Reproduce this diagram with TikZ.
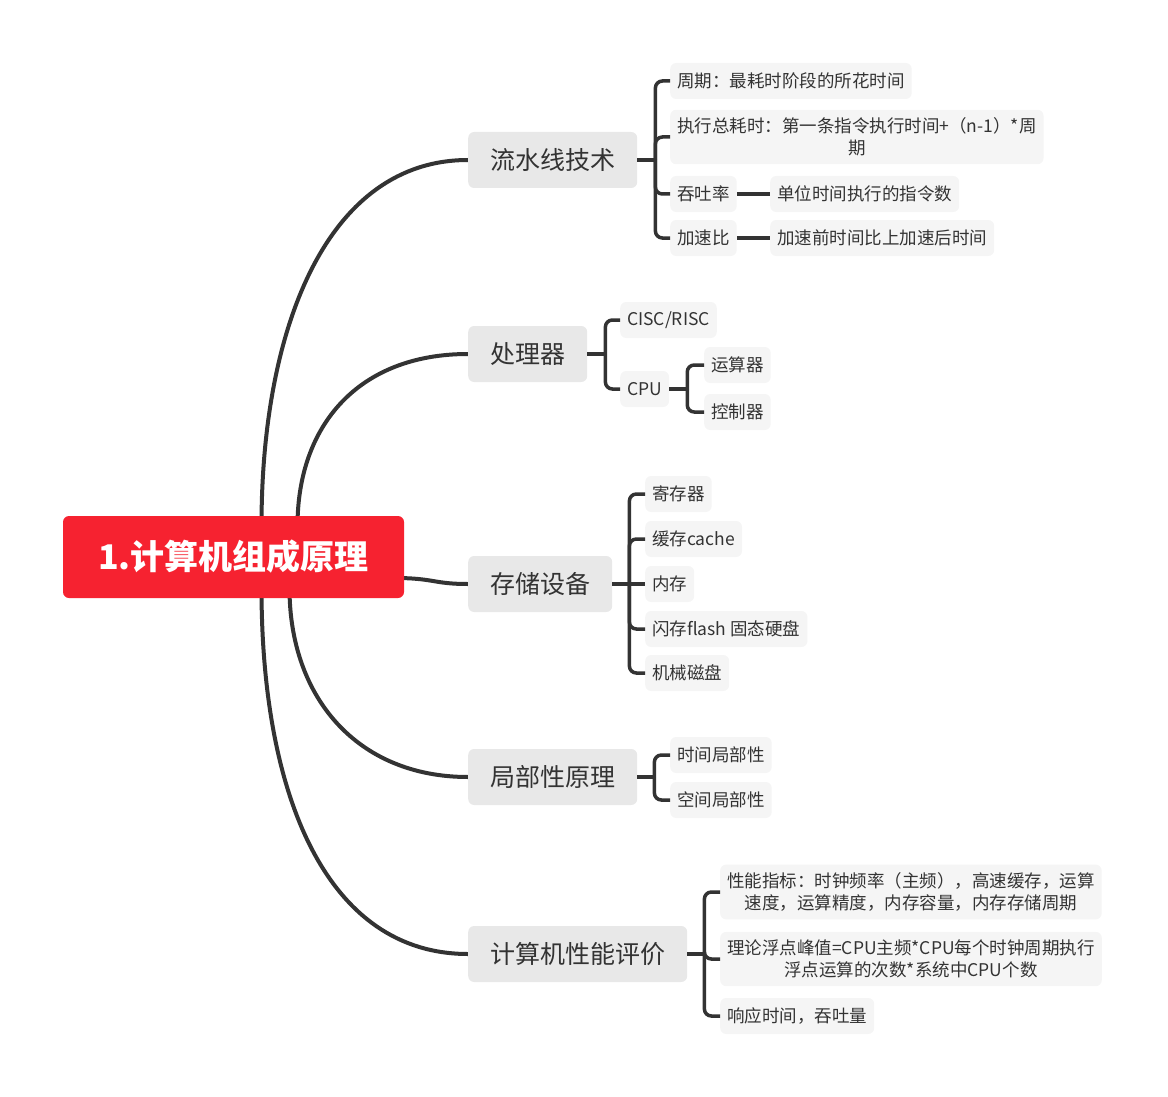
\documentclass[tikz,border=0pt]{standalone}
\usepackage{fontspec}
\newfontfamily\cjk{Noto Sans CJK SC}
\usetikzlibrary{backgrounds}
\definecolor{rootred}{RGB}{246,34,48}
\definecolor{topicgray}{RGB}{232,232,232}
\definecolor{leafgray}{RGB}{245,245,245}
\definecolor{linedark}{RGB}{51,51,51}

\tikzset{
  rootbox/.style={fill=rootred, rounded corners=6pt, text=white, font=\cjk\bfseries\fontsize{34}{40}\selectfont, minimum width=341pt, minimum height=82pt},
  topicbox/.style={fill=topicgray, rounded corners=6pt, text=linedark, font=\cjk\fontsize{25}{30}\selectfont, minimum height=56pt, inner xsep=22pt, anchor=west},
  leafbox/.style={fill=leafgray, rounded corners=6pt, text=linedark, font=\cjk\fontsize{17.5}{22}\selectfont, minimum height=36pt, inner xsep=7pt, inner ysep=8pt, anchor=west, align=center},
  mainline/.style={draw=linedark, line width=4pt},
  subline/.style={draw=linedark, line width=3.5pt, rounded corners=7pt},
}

\begin{document}
\begin{tikzpicture}[x=1pt, y=-1pt]
    \useasboundingbox (0,0) rectangle (1168,1097);

    % 中心主题
    \node[rootbox] (root) at (233.5,557) {1.计算机组成原理};

    % 五个分支主题
    \node[topicbox] (pipe) at (468,160) {流水线技术};
    \node[topicbox] (proc) at (468,354) {处理器};
    \node[topicbox] (store) at (468,584) {存储设备};
    \node[topicbox] (local) at (468,777) {局部性原理};
    \node[topicbox] (perf) at (468,954) {计算机性能评价};

    % 主题到分支的曲线 (放在底层)
    \begin{scope}[on background layer]
        \draw[mainline] ([xshift=28pt,yshift=-10pt]root.north) .. controls +(0,-200) and +(-140,0) .. (pipe.west);
        \draw[mainline] ([xshift=64pt,yshift=-10pt]root.north) .. controls +(0,-100) and +(-110,0) .. (proc.west);
        \draw[mainline] ([xshift=-10pt,yshift=-21pt]root.east) .. controls +(40,0) and +(-35,0) .. (store.west);
        \draw[mainline] ([xshift=56pt,yshift=10pt]root.south) .. controls +(0,110) and +(-110,0) .. (local.west);
        \draw[mainline] ([xshift=28pt,yshift=10pt]root.south) .. controls +(0,210) and +(-140,0) .. (perf.west);
    \end{scope}

    % 流水线技术
    \node[leafbox] (pipe1) at (670,81) {周期：最耗时阶段的所花时间};
    \node[leafbox] (pipe2) at (670,137) {执行总耗时：第一条指令执行时间+（n-1）*周\\期};
    \node[leafbox] (pipe3) at (670,194) {吞吐率};
    \node[leafbox] (pipe4) at (670,238) {加速比};
    \node[leafbox] (pipe3a) at (770,194) {单位时间执行的指令数};
    \node[leafbox] (pipe4a) at (770,238) {加速前时间比上加速后时间};
    \draw[subline] (pipe.east) -- ++(18,0) coordinate (pipefork);
    \draw[subline] (pipefork) |- (pipe1.west);
    \draw[subline] (pipefork) |- (pipe2.west);
    \draw[subline] (pipefork) |- (pipe3.west);
    \draw[subline] (pipefork) |- (pipe4.west);
    \draw[subline] (pipe3.east) -- (pipe3a.west);
    \draw[subline] (pipe4.east) -- (pipe4a.west);

    % 处理器
    \node[leafbox] (proc1) at (620,320) {CISC/RISC};
    \node[leafbox] (proc2) at (620,389) {CPU};
    \node[leafbox] (alu) at (704,365) {运算器};
    \node[leafbox] (ctrl) at (704,412) {控制器};
    \draw[subline] (proc.east) -- ++(18,0) coordinate (procfork);
    \draw[subline] (procfork) |- (proc1.west);
    \draw[subline] (procfork) |- (proc2.west);
    \draw[subline] (proc2.east) -- ++(18,0) coordinate (cpufork);
    \draw[subline] (cpufork) |- (alu.west);
    \draw[subline] (cpufork) |- (ctrl.west);

    % 存储设备
    \node[leafbox] (store1) at (645,494) {寄存器};
    \node[leafbox] (store2) at (645,539) {缓存cache};
    \node[leafbox] (store3) at (645,584) {内存};
    \node[leafbox] (store4) at (645,629) {闪存flash 固态硬盘};
    \node[leafbox] (store5) at (645,673) {机械磁盘};
    \draw[subline] (store.east) -- ++(17,0) coordinate (storefork);
    \draw[subline] (storefork) |- (store1.west);
    \draw[subline] (storefork) |- (store2.west);
    \draw[subline] (storefork) -- (store3.west);
    \draw[subline] (storefork) |- (store4.west);
    \draw[subline] (storefork) |- (store5.west);

    % 局部性原理
    \node[leafbox] (local1) at (670,755) {时间局部性};
    \node[leafbox] (local2) at (670,800) {空间局部性};
    \draw[subline] (local.east) -- ++(17,0) coordinate (localfork);
    \draw[subline] (localfork) |- (local1.west);
    \draw[subline] (localfork) |- (local2.west);

    % 计算机性能评价
    \node[leafbox] (perf1) at (720,892) {性能指标：时钟频率（主频），高速缓存，运算\\速度，运算精度，内存容量，内存存储周期};
    \node[leafbox] (perf2) at (720,959) {理论浮点峰值=CPU主频*CPU每个时钟周期执行\\浮点运算的次数*系统中CPU个数};
    \node[leafbox] (perf3) at (720,1016) {响应时间，吞吐量};
    \draw[subline] (perf.east) -- ++(17,0) coordinate (perffork);
    \draw[subline] (perffork) |- (perf1.west);
    \draw[subline] (perffork) |- (perf2.west);
    \draw[subline] (perffork) |- (perf3.west);
\end{tikzpicture}
\end{document}
